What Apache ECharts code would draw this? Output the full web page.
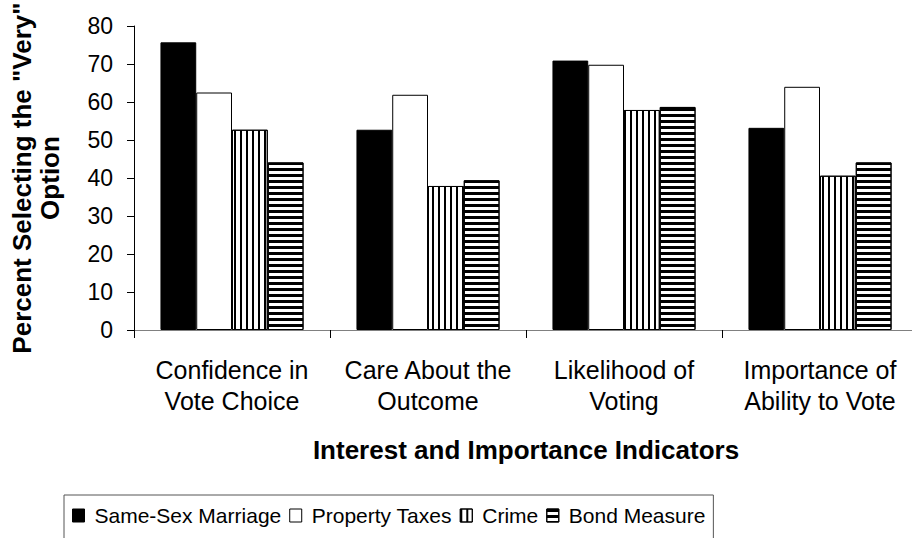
<!DOCTYPE html>
<html>
<head>
<meta charset="utf-8">
<script src="https://cdn.jsdelivr.net/npm/echarts@6/dist/echarts.min.js"></script>
<style>
  html, body { margin: 0; padding: 0; background: #fff; overflow: hidden; }
  #chart { width: 912px; height: 538px; }
</style>
</head>
<body>
<div id="chart"></div>
<script>
const categories = [
  'Confidence in\nVote Choice',
  'Care About the\nOutcome',
  'Likelihood of\nVoting',
  'Importance of\nAbility to Vote'
];
const seriesNames = ['Same-Sex Marriage', 'Property Taxes', 'Crime', 'Bond Measure'];
const sameSexMarriage = [75.7, 52.7, 70.9, 53.2];
const propertyTaxes   = [62.5, 61.9, 69.8, 64.0];
const crime           = [52.7, 37.9, 57.9, 40.6];
const bondMeasure     = [44.1, 39.4, 58.7, 44.1];
const yTicks = { min: 0, max: 80, interval: 10 };

const FONT = "'Liberation Sans', Arial, sans-serif";

const verticalStripes = {
  symbol: 'rect', symbolSize: 1, color: '#000',
  dashArrayX: [2, 4], dashArrayY: [5, 0], rotation: 0
};
const horizontalStripes = {
  symbol: 'rect', symbolSize: 1, color: '#000',
  dashArrayX: [5, 0], dashArrayY: [3, 3], rotation: 0
};

function barSeries(name, data, fill, decal) {
  const itemStyle = { color: fill, borderColor: '#000', borderWidth: 1 };
  if (decal) itemStyle.decal = decal;
  return {
    name: name,
    type: 'bar',
    data: data,
    barGap: '0%',
    barCategoryGap: '27%',
    itemStyle: itemStyle,
    emphasis: { disabled: true },
    animation: false
  };
}

const chart = echarts.init(document.getElementById('chart'), null, { renderer: 'svg' });
chart.setOption({
  backgroundColor: '#fff',
  animation: false,
  textStyle: { fontFamily: FONT, color: '#000' },
  grid: {
    left: 134, top: 26, width: 784, height: 304,
    containLabel: false, outerBoundsMode: 'none'
  },
  legend: {
    data: seriesNames,
    left: 64, top: 495,
    orient: 'horizontal',
    icon: 'rect',
    itemWidth: 12, itemHeight: 13, itemGap: 8,
    padding: [10, 8, 40, 8],
    borderColor: '#555', borderWidth: 1,
    backgroundColor: '#fff',
    selectedMode: false,
    itemStyle: { borderColor: '#000', borderWidth: 1 },
    textStyle: { fontFamily: FONT, fontSize: 21, color: '#000', padding: [0, 0, 0, 5] }
  },
  xAxis: {
    type: 'category',
    data: categories,
    name: 'Interest and Importance Indicators',
    nameLocation: 'middle',
    nameGap: 107,
    nameTextStyle: { fontFamily: FONT, fontSize: 26, fontWeight: 'bold', color: '#000', lineHeight: 26 },
    axisLine: { show: true, lineStyle: { color: '#808080', width: 1 } },
    axisTick: { show: true, length: 8, lineStyle: { color: '#000' } },
    axisLabel: { fontFamily: FONT, fontSize: 25, lineHeight: 31, color: '#000', margin: 24, interval: 0 },
    splitLine: { show: false }
  },
  yAxis: {
    type: 'value',
    min: yTicks.min, max: yTicks.max, interval: yTicks.interval,
    name: 'Percent Selecting the "Very"\nOption',
    nameLocation: 'middle',
    nameRotate: 90,
    nameGap: 70,
    nameTextStyle: { fontFamily: FONT, fontSize: 26, fontWeight: 'bold', color: '#000', lineHeight: 28, align: 'center' },
    axisLine: { show: true, lineStyle: { color: '#000', width: 1 } },
    axisTick: { show: true, length: 7, lineStyle: { color: '#000' } },
    axisLabel: { fontFamily: FONT, fontSize: 23, color: '#000', margin: 21 },
    splitLine: { show: false }
  },
  series: [
    barSeries(seriesNames[0], sameSexMarriage, '#000'),
    barSeries(seriesNames[1], propertyTaxes, '#fff'),
    barSeries(seriesNames[2], crime, '#fff', verticalStripes),
    barSeries(seriesNames[3], bondMeasure, '#fff', horizontalStripes)
  ]
});
</script>
</body>
</html>
